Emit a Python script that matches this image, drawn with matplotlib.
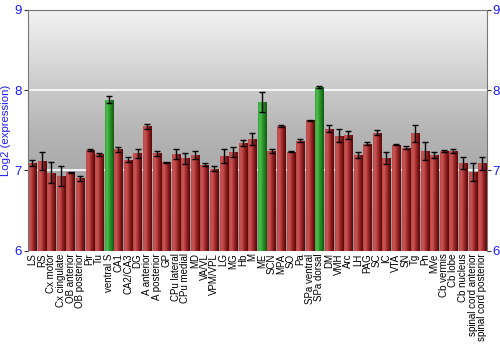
import numpy as np
import matplotlib
matplotlib.use("Agg")
import matplotlib.pyplot as plt
from matplotlib.colors import LinearSegmentedColormap

plt.rcParams["font.family"] = ["Liberation Sans", "DejaVu Sans"]

regions = ["LS", "RS", "Cx motor", "Cx cingulate", "OB anterior", "OB posterior", "Pir", "Tu",
           "ventral S", "CA1", "CA2/CA3", "DG", "A anterior", "A posterior", "GP", "CPu lateral",
           "CPu medial", "MD", "VA/VL", "VPM/VPL", "LG", "MG", "Hb", "M", "ME", "SCN", "MPA", "SO",
           "Pa", "SPa ventral", "SPa dorsal", "DM", "VMH", "Arc", "LH", "PAG", "SC", "IC", "VTA",
           "SN", "Tg", "Pn", "MVe", "Cb vermis", "Cb lobe", "Cb nucleus", "spinal cord anterior",
           "spinal cord posterior"]
expr = [7.09, 7.12, 6.97, 6.93, 6.975, 6.90, 7.25, 7.20,
        7.88, 7.26, 7.13, 7.21, 7.55, 7.21, 7.10, 7.20,
        7.15, 7.19, 7.07, 7.02, 7.18, 7.23, 7.34, 7.39, 7.85, 7.24, 7.55, 7.23,
        7.37, 7.625, 8.04, 7.52, 7.43, 7.44, 7.19, 7.33, 7.47, 7.15, 7.32,
        7.28, 7.46, 7.24, 7.19, 7.24, 7.24, 7.09, 6.98,
        7.09]
err = [0.04, 0.11, 0.13, 0.12, 0.008, 0.03, 0.01, 0.02,
       0.04, 0.03, 0.03, 0.06, 0.03, 0.03, 0.005, 0.06,
       0.07, 0.05, 0.02, 0.03, 0.09, 0.06, 0.04, 0.08, 0.125, 0.02, 0.015, 0.005,
       0.02, 0.005, 0.01, 0.04, 0.08, 0.05, 0.04, 0.02, 0.03, 0.075, 0.004,
       0.02, 0.11, 0.11, 0.04, 0.015, 0.03, 0.07, 0.11,
       0.08]
highlight = ["ventral S", "ME", "SPa dorsal"]

blue = "#1a1aff"
red_cm = LinearSegmentedColormap.from_list("r", ["#bc4848", "#c85555", "#ad3535", "#7e1818", "#5a0a0a"])
green_cm = LinearSegmentedColormap.from_list("g", ["#3aa23a", "#4cc04c", "#2f9a2f", "#1f7a1f", "#135a13"])
bg_cm = LinearSegmentedColormap.from_list("bg", ["#959595", "#b5b5b5", "#f2f2f2"])

fig = plt.figure(figsize=(5, 3.5), dpi=100)
ax = fig.add_axes([0.055, 0.284, 0.919, 0.688])

x = np.arange(len(regions))
ax.set_xlim(-0.5, len(regions) - 0.5)
ax.set_ylim(6, 9)

# background gradient
grad = np.linspace(0, 1, 256).reshape(-1, 1)
ax.imshow(grad, aspect="auto", cmap=bg_cm, origin="lower",
          extent=[-0.5, len(regions) - 0.5, 6, 9], zorder=0)
for g in [7, 8]:
    ax.axhline(g, color="white", lw=1.2, zorder=1)

# bars with a horizontal shading clipped to each bar
shade = np.linspace(0, 1, 64).reshape(1, -1)
bars = ax.bar(x, np.array(expr) - 6, bottom=6, width=0.86, color="none", zorder=2)
for b, name in zip(bars, regions):
    cm = green_cm if name in highlight else red_cm
    im = ax.imshow(shade, aspect="auto", cmap=cm,
                   extent=[b.get_x(), b.get_x() + b.get_width(), 6, 6 + b.get_height()], zorder=2)
    im.set_clip_path(b)

ax.errorbar(x, expr, yerr=err, fmt="none", ecolor="black", elinewidth=1, capsize=2.2,
            capthick=1, zorder=3)

ax.set_xticks(x)
ax.set_xticklabels(regions, rotation=90, fontsize=7)
ax.tick_params(axis="x", length=0, pad=2)
ax.set_yticks([6, 7, 8, 9])
ax.tick_params(axis="y", labelsize=9.5, labelcolor=blue, length=3, color="#333333",
               left=True, right=True, labelright=True, pad=1)
ax.set_ylabel("Log2 (expression)", color=blue, fontsize=8.2)
ax.yaxis.set_label_coords(-0.036, 0.5)

for s in ["left", "right", "top"]:
    ax.spines[s].set_color("#777777")
ax.spines["bottom"].set_visible(False)

fig.savefig("out.png", dpi=100)
